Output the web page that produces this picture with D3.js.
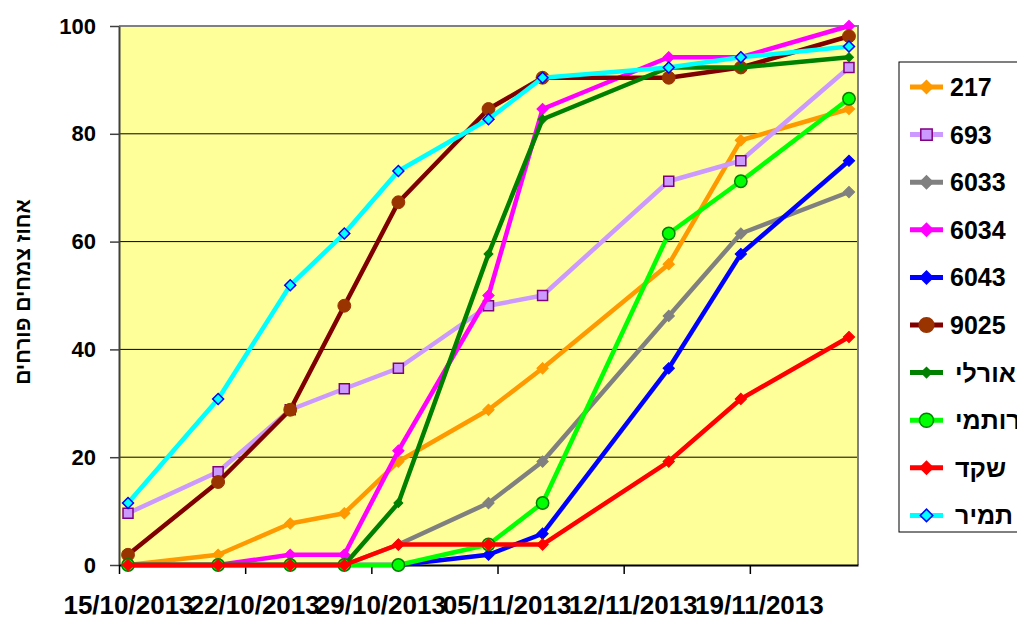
<!doctype html>
<html>
<head>
<meta charset="utf-8">
<script src="https://d3js.org/d3.v7.min.js"></script>
<style>
  body { margin: 0; background: #fff; }
  text { font-family: "Liberation Sans", Arial, sans-serif; font-weight: bold; fill: #000; }
</style>
</head>
<body>
<svg width="1017" height="617"></svg>
<script>
// dates of the observations
var dates = ["2013-10-15", "2013-10-20", "2013-10-24", "2013-10-27", "2013-10-30",
             "2013-11-04", "2013-11-07", "2013-11-14", "2013-11-18", "2013-11-24"];

// percent of flowering plants per line
var s217    = [0, 1.9, 7.7, 9.6, 19.2, 28.8, 36.5, 55.8, 78.8, 84.6];
var s693    = [9.6, 17.3, 28.8, 32.7, 36.5, 48.1, 50.0, 71.2, 75.0, 92.3];
var s6033   = [0, 0, 0, 0, 3.8, 11.5, 19.2, 46.2, 61.5, 69.2];
var s6034   = [0, 0, 1.9, 1.9, 21.2, 50.0, 84.6, 94.2, 94.2, 100];
var s6043   = [0, 0, 0, 0, 0, 1.9, 5.8, 36.5, 57.7, 75.0];
var s9025   = [1.9, 15.4, 28.8, 48.1, 67.3, 84.6, 90.4, 90.4, 92.3, 98.1];
var sOrly   = [0, 0, 0, 0, 11.5, 57.7, 82.7, 92.3, 92.3, 94.2];
var sRotmi  = [0, 0, 0, 0, 0, 3.8, 11.5, 61.5, 71.2, 86.5];
var sShaked = [0, 0, 0, 0, 3.8, 3.8, 3.8, 19.2, 30.8, 42.3];
var sTamir  = [11.5, 30.8, 51.9, 61.5, 73.1, 82.7, 90.4, 92.3, 94.2, 96.2];

var seriesNames = ["217", "693", "6033", "6034", "6043", "9025", "אורלי", "רותמי", "שקד", "תמיר"];
var seriesVals  = [s217, s693, s6033, s6034, s6043, s9025, sOrly, sRotmi, sShaked, sTamir];

var xTicks = ["2013-10-15", "2013-10-22", "2013-10-29", "2013-11-05", "2013-11-12", "2013-11-19"];
var yTicks = [0, 20, 40, 60, 80, 100];
var yTitle = "אחוז צמחים פורחים";

// look of each series: line colour, marker shape, marker fill, marker stroke, marker size
var styles = [
  { line: "#FF9900", shape: "diamond", fill: "#FF9900", stroke: "#FF9900", size: 64 },
  { line: "#CC99FF", shape: "square",  fill: "#CC99FF", stroke: "#800080", size: 100 },
  { line: "#808080", shape: "diamond", fill: "#808080", stroke: "#808080", size: 64 },
  { line: "#FF00FF", shape: "diamond", fill: "#FF00FF", stroke: "#FF00FF", size: 64 },
  { line: "#0000FF", shape: "diamond", fill: "#0000FF", stroke: "#0000FF", size: 64 },
  { line: "#800000", shape: "circle",  fill: "#993300", stroke: "#993300", size: 130 },
  { line: "#008000", shape: "diamond", fill: "#008000", stroke: "#008000", size: 40 },
  { line: "#00FF00", shape: "circle",  fill: "#00FF00", stroke: "#008000", size: 120 },
  { line: "#FF0000", shape: "diamond", fill: "#FF0000", stroke: "#FF0000", size: 64 },
  { line: "#00FFFF", shape: "diamond", fill: "#00FFFF", stroke: "#0000FF", size: 60 }
];

var parse = d3.timeParse("%Y-%m-%d");
var svg = d3.select("svg");
var plotL = 119, plotR = 858, plotT = 26, plotB = 565;

var x = d3.scaleTime()
  .domain([parse("2013-10-15"), parse("2013-11-25")])
  .range([plotL, plotR]);
var y = d3.scaleLinear().domain([0, 100]).range([plotB, plotT]);

// points sit in the middle of their day
var pts = dates.map(function(d) { return d3.timeHour.offset(parse(d), 12); });
var halfDay = x(pts[0]) - x(parse(dates[0]));

svg.append("rect")
  .attr("x", plotL).attr("y", plotT)
  .attr("width", plotR - plotL).attr("height", plotB - plotT)
  .attr("fill", "#FFFF99");

// gridlines
svg.append("g").selectAll("line")
  .data(yTicks.filter(function(v) { return v > 0 && v < 100; }))
  .enter().append("line")
  .attr("x1", plotL).attr("x2", plotR)
  .attr("y1", function(d) { return y(d); })
  .attr("y2", function(d) { return y(d); })
  .attr("stroke", "#000").attr("stroke-width", 1);

// plot frame top / right
svg.append("path")
  .attr("d", "M" + plotL + "," + plotT + "H" + plotR + "V" + plotB)
  .attr("fill", "none").attr("stroke", "#808080").attr("stroke-width", 2);

// axes
var yAxis = svg.append("g")
  .attr("transform", "translate(" + plotL + ",0)")
  .call(d3.axisLeft(y).tickValues(yTicks).tickSize(9).tickSizeOuter(0).tickPadding(14));
yAxis.select(".domain").attr("stroke", "#404040").attr("stroke-width", 2);
yAxis.selectAll(".tick line").attr("stroke", "#404040").attr("stroke-width", 1.5);
yAxis.selectAll("text").style("font-size", "22px").attr("font-family", null);

var xAxis = svg.append("g")
  .attr("transform", "translate(0," + plotB + ")")
  .call(d3.axisBottom(x).tickValues(xTicks.map(parse))
    .tickFormat(d3.timeFormat("%d/%m/%Y")).tickSize(9).tickSizeOuter(0).tickPadding(22));
xAxis.select(".domain").attr("stroke", "#000").attr("stroke-width", 2);
xAxis.selectAll(".tick line").attr("stroke", "#000").attr("stroke-width", 1.5);
xAxis.selectAll("text")
  .attr("x", halfDay)
  .style("font-size", "26px").attr("font-family", null);

svg.append("text")
  .attr("transform", "translate(30," + 292 + ") rotate(-90)")
  .attr("text-anchor", "middle")
  .style("font-size", "21px")
  .text(yTitle);

function symbolFor(st, scale) {
  var s = st.size * (scale || 1);
  if (st.shape === "circle") return d3.symbol(d3.symbolCircle, s)();
  return d3.symbol(d3.symbolSquare, s)();
}

var line = d3.line()
  .x(function(d, i) { return x(pts[i]); })
  .y(function(d) { return y(d); });

seriesVals.forEach(function(vals, k) {
  var st = styles[k];
  var g = svg.append("g");
  g.append("path")
    .attr("d", line(vals))
    .attr("fill", "none")
    .attr("stroke", st.line)
    .attr("stroke-width", 4.5)
    .attr("stroke-linejoin", "round");
  g.selectAll("path.m")
    .data(vals)
    .enter().append("path")
    .attr("class", "m")
    .attr("d", symbolFor(st))
    .attr("transform", function(d, i) {
      return "translate(" + x(pts[i]) + "," + y(d) + ")" + (st.shape === "diamond" ? " rotate(45)" : "");
    })
    .attr("fill", st.fill)
    .attr("stroke", st.stroke)
    .attr("stroke-width", st.fill === st.stroke ? 1 : 1.5);
});

// legend
var lg = svg.append("g");
lg.append("rect")
  .attr("x", 899).attr("y", 62)
  .attr("width", 140).attr("height", 470)
  .attr("fill", "#fff").attr("stroke", "#000").attr("stroke-width", 1);

seriesNames.forEach(function(name, k) {
  var st = styles[k];
  var cy = 87 + k * 47.6;
  lg.append("line")
    .attr("x1", 910).attr("x2", 943)
    .attr("y1", cy).attr("y2", cy)
    .attr("stroke", st.line).attr("stroke-width", 5);
  lg.append("path")
    .attr("d", symbolFor(st, 1.3))
    .attr("transform", "translate(926.5," + cy + ")" + (st.shape === "diamond" ? " rotate(45)" : ""))
    .attr("fill", st.fill).attr("stroke", st.stroke).attr("stroke-width", 1.5);
  var hebrew = /[\u0590-\u05FF]/.test(name);
  lg.append("text")
    .attr("x", hebrew ? 955 : 950)
    .attr("y", cy)
    .attr("dy", "0.36em")
    .style("font-size", "25px")
    .text(name);
});
</script>
</body>
</html>
